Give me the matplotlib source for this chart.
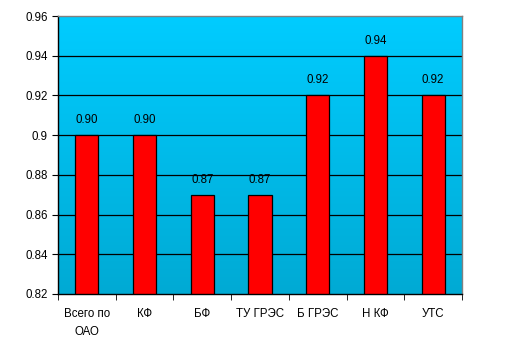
import matplotlib.pyplot as plt
import numpy as np

plt.rcParams['font.family'] = ['Liberation Sans', 'DejaVu Sans']

categories = ["Всего по\nОАО", "КФ", "БФ", "ТУ ГРЭС", "Б ГРЭС", "Н КФ", "УТС"]
values = [0.90, 0.90, 0.87, 0.87, 0.92, 0.94, 0.92]

fig = plt.figure(figsize=(5.17, 3.51), dpi=100)
ax = fig.add_axes([0.1122, 0.1624, 0.7814, 0.792])

x = np.arange(len(categories))

# gradient background
grad = np.linspace(0, 1, 256).reshape(-1, 1)
top = np.array([0, 204, 255]) / 255
bot = np.array([0, 170, 212]) / 255
img = top + (bot - top) * grad[:, :, None]
ax.imshow(img, extent=[-0.5, len(categories) - 0.5, 0.82, 0.96],
          aspect='auto', origin='upper', zorder=0)

ax.set_xlim(-0.5, len(categories) - 0.5)
ax.set_ylim(0.82, 0.96)
yt = np.arange(0.82, 0.961, 0.02)
ax.set_yticks(yt)
ax.set_yticklabels([f"{v:g}" for v in np.round(yt, 2)])
for v in yt[1:-1]:
    ax.axhline(v, color='black', lw=0.9, zorder=1)

ax.bar(x, values, width=0.4, color='#FF0000', edgecolor='black', lw=0.9, zorder=2)
for xi, v in zip(x, values):
    ax.text(xi, v + 0.0045, f"{v:.2f}", ha='center', va='bottom', fontsize=8.3, zorder=3)

ax.set_xticks(x)
ax.set_xticklabels(categories, fontsize=8.3, linespacing=1.7)
ax.set_xticks(np.arange(-0.5, len(categories)), minor=True)
ax.tick_params(axis='x', which='major', length=0, pad=10)
ax.tick_params(axis='x', which='minor', length=4, direction='out')
ax.tick_params(axis='y', length=4, direction='out', labelsize=8.3)

ax.spines['top'].set_color('#808080')
ax.spines['right'].set_color('#808080')
for s in ax.spines.values():
    s.set_linewidth(1.0)

fig.savefig("out.png", dpi=100)
